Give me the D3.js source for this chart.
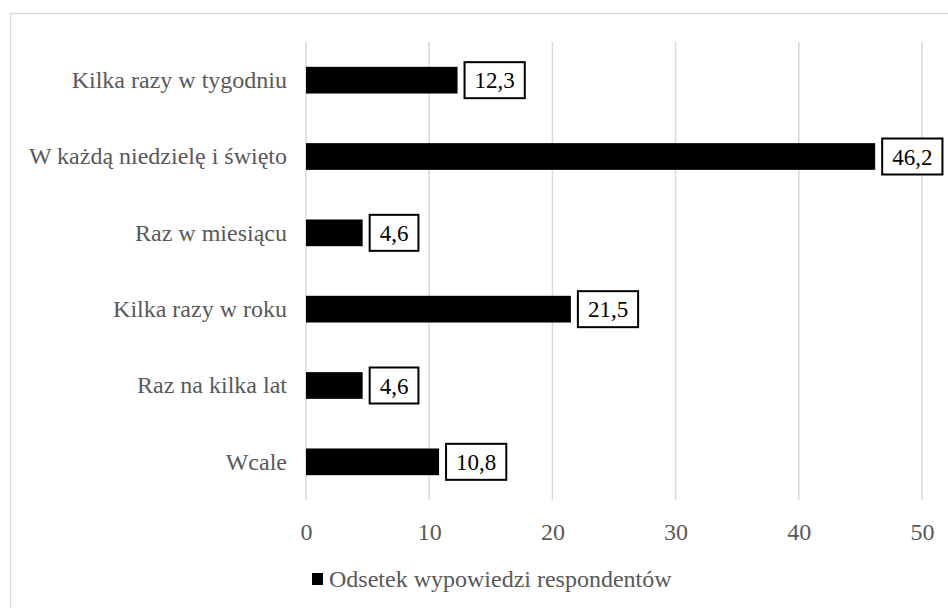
<!DOCTYPE html>
<html>
<head>
<meta charset="utf-8">
<script src="https://cdn.jsdelivr.net/npm/d3@7"></script>
<style>
  html, body { margin: 0; padding: 0; background: #fff; }
  svg { display: block; }
</style>
</head>
<body>
<svg id="chart" width="948" height="608"></svg>
<script>
// Survey answers: how often respondents attend
const categories = [
  "Kilka razy w tygodniu",
  "W każdą niedzielę i święto",
  "Raz w miesiącu",
  "Kilka razy w roku",
  "Raz na kilka lat",
  "Wcale"
];
const values = [12.3, 46.2, 4.6, 21.5, 4.6, 10.8];
const tickValues = [0, 10, 20, 30, 40, 50];
const seriesName = "Odsetek wypowiedzi respondentów";

const FONT = '"Liberation Serif", "Times New Roman", Times';
const svg = d3.select("#chart").attr("font-family", FONT);
const W = 948, H = 608;
const plot = { left: 306, right: 922, top: 42, bottom: 500 };
const labelColor = "#595959";
const fmt = v => String(v).replace(".", ",");
const serif = sel => sel.attr("font-family", FONT).style("font-family", FONT);

// Outer chart frame
svg.append("rect")
  .attr("x", 10.5).attr("y", 13.5)
  .attr("width", W).attr("height", H)
  .attr("fill", "#fff")
  .attr("stroke", "#d9d9d9").attr("stroke-width", 1.5);

const x = d3.scaleLinear().domain([0, 50]).range([plot.left, plot.right]);
const y = d3.scaleBand().domain(categories).range([plot.top, plot.bottom])
  .paddingInner(0.65).paddingOuter(0.325);

// Vertical gridlines
svg.append("g")
  .selectAll("line")
  .data(tickValues)
  .join("line")
  .attr("x1", d => x(d)).attr("x2", d => x(d))
  .attr("y1", plot.top).attr("y2", plot.bottom)
  .attr("stroke", "#d9d9d9").attr("stroke-width", 1.5);

// X axis tick labels
const xAxis = d3.axisBottom(x).tickValues(tickValues).tickSize(0).tickPadding(0).tickFormat(d => d);
const gx = svg.append("g").attr("transform", `translate(0,${plot.bottom})`).call(xAxis);
serif(gx);
gx.select(".domain").remove();
gx.selectAll("text")
  .attr("y", 32).attr("dy", "0.35em")
  .attr("fill", labelColor)
  .attr("font-size", 24)
  .call(serif);

// Y axis category labels
const yAxis = d3.axisLeft(y).tickSize(0).tickPadding(19);
const gy = svg.append("g").attr("transform", `translate(${plot.left},0)`).call(yAxis);
serif(gy);
gy.select(".domain").remove();
gy.selectAll("text")
  .attr("fill", labelColor)
  .attr("font-size", 24)
  .call(serif);

// Bars
svg.append("g")
  .selectAll("rect")
  .data(categories)
  .join("rect")
  .attr("x", x(0))
  .attr("y", (d) => y(d))
  .attr("width", (d, i) => x(values[i]) - x(0))
  .attr("height", y.bandwidth())
  .attr("fill", "#000");

// Value labels in boxes
const lbl = svg.append("g")
  .selectAll("g")
  .data(categories)
  .join("g")
  .attr("transform", (d, i) => `translate(${x(values[i]) + 7},${y(d) + y.bandwidth() / 2})`);

lbl.each(function(d, i) {
  const g = d3.select(this);
  const t = g.append("text")
    .attr("dy", "0.35em")
    .attr("fill", "#000")
    .attr("font-size", 23)
    .call(serif)
    .text(fmt(values[i]));
  const w = t.node().getComputedTextLength();
  const padX = 10, h = 36;
  g.insert("rect", "text")
    .attr("x", 0).attr("y", -h / 2)
    .attr("width", w + padX * 2).attr("height", h)
    .attr("fill", "#fff")
    .attr("stroke", "#000").attr("stroke-width", 2);
  t.attr("x", padX);
});

// Legend
const leg = svg.append("g").attr("transform", "translate(312,579)");
leg.append("rect").attr("x", 0).attr("y", -6).attr("width", 11).attr("height", 12).attr("fill", "#000");
leg.append("text")
  .attr("x", 17).attr("dy", "0.35em")
  .attr("fill", labelColor)
  .attr("font-size", 24)
  .call(serif)
  .text(seriesName);
</script>
</body>
</html>
